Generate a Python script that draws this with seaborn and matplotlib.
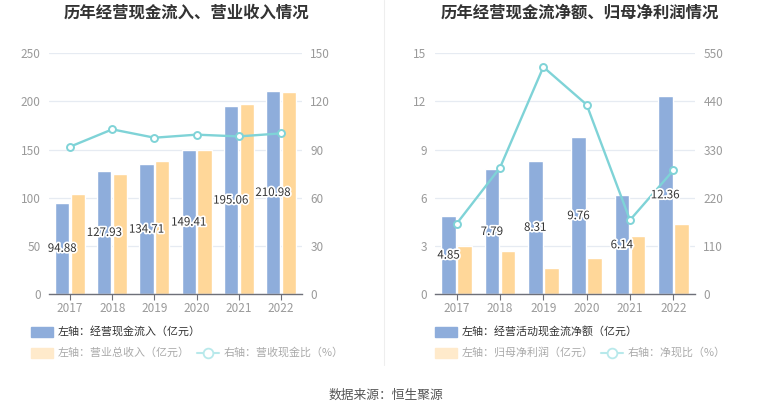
import pandas as pd
import seaborn as sns
import matplotlib.pyplot as plt
import matplotlib.patheffects as pe
from matplotlib.patches import Rectangle
from matplotlib.lines import Line2D

# 数据
years = ['2017', '2018', '2019', '2020', '2021', '2022']
cash_inflow = [94.88, 127.93, 134.71, 149.41, 195.06, 210.98]
revenue = [103.4, 124.8, 138.0, 149.7, 197.8, 209.9]
cash_rev_ratio = [91.8, 102.6, 97.4, 99.3, 98.2, 100.1]
net_cash = [4.85, 7.79, 8.31, 9.76, 6.14, 12.36]
net_profit = [3.01, 2.70, 1.62, 2.26, 3.63, 4.36]
net_cash_ratio = [160.7, 288.6, 518.7, 432.6, 169.0, 282.6]

left_ticks_1 = [0, 50, 100, 150, 200, 250]
right_ticks_1 = [0, 30, 60, 90, 120, 150]
left_ticks_2 = [0, 3, 6, 9, 12, 15]
right_ticks_2 = [0, 110, 220, 330, 440, 550]

BLUE = '#8EADDB'
ORANGE = '#FFD799'
TEAL = '#7FD3D7'
GRID = '#E6EBF2'
TICK = '#9A9A9A'

sns.set_style('white')
plt.rcParams['font.family'] = ['Noto Sans CJK SC', 'DejaVu Sans']

W, H = 765, 413
fig = plt.figure(figsize=(W / 100, H / 100), dpi=100)


def fx(px):
    return px / W


def fy(py):
    return 1 - py / H


def draw_panel(rect, bars1, bars2, line, lticks, rticks, names):
    ax = fig.add_axes(rect)
    df = pd.DataFrame({
        'year': years * 2,
        'value': bars1 + bars2,
        'series': [names[0]] * len(years) + [names[1]] * len(years),
    })
    sns.barplot(data=df, x='year', y='value', hue='series', ax=ax,
                palette=[BLUE, ORANGE], width=0.75, gap=0.1,
                saturation=1, legend=False, errorbar=None)
    ax.set_xlim(-0.5, len(years) - 0.5)
    ax.set_ylim(lticks[0], lticks[-1])
    ax.set_yticks(lticks)
    ax.grid(axis='y', color=GRID, lw=0.9)
    ax.grid(axis='x', visible=False)
    ax.set_axisbelow(True)
    ax.set_xlabel('')
    ax.set_ylabel('')
    for s in ['top', 'left', 'right']:
        ax.spines[s].set_visible(False)
    ax.spines['bottom'].set_color('#6E7079')
    ax.spines['bottom'].set_linewidth(1)
    ax.tick_params(axis='y', length=0, labelcolor=TICK, labelsize=8.5, pad=6)
    ax.tick_params(axis='x', length=4, color='#6E7079', labelcolor=TICK,
                   labelsize=8.5, pad=1.5, bottom=True)

    ax2 = ax.twinx()
    sns.lineplot(x=list(range(len(years))), y=line, ax=ax2, color=TEAL, lw=1.7,
                 marker='o', markersize=5, markerfacecolor='white',
                 markeredgecolor=TEAL, markeredgewidth=1.4)
    ax2.set_ylim(rticks[0], rticks[-1])
    ax2.set_yticks(rticks)
    ax2.grid(False)
    for s in ax2.spines.values():
        s.set_visible(False)
    ax2.tick_params(axis='y', length=0, labelcolor=TICK, labelsize=8.5, pad=6)
    ax2.set_ylabel('')

    # 数据标签（在柱子中间，白色描边）
    for patch, v in zip(ax.containers[0], bars1):
        x = patch.get_x() + patch.get_width() / 2
        y = patch.get_height() / 2
        ax2.text(x, y, f'{v:.2f}', transform=ax.transData, ha='center', va='center',
                 fontsize=8.3, color='#333333', zorder=10,
                 path_effects=[pe.withStroke(linewidth=2.5, foreground='white')])
    return ax, ax2


draw_panel([fx(49), fy(294), fx(253), (294 - 53.3) / H],
           cash_inflow, revenue, cash_rev_ratio,
           left_ticks_1, right_ticks_1, ['经营现金流入', '营业总收入'])
draw_panel([fx(435), fy(294), fx(260), (294 - 53.3) / H],
           net_cash, net_profit, net_cash_ratio,
           left_ticks_2, right_ticks_2, ['经营活动现金流净额', '归母净利润'])

# 标题
fig.text(fx(186), fy(13), '历年经营现金流入、营业收入情况', ha='center', va='center',
         fontsize=11.8, fontweight='bold', color='#333333')
fig.text(fx(580), fy(13), '历年经营现金流净额、归母净利润情况', ha='center', va='center',
         fontsize=11.8, fontweight='bold', color='#333333')

# 分隔线
fig.add_artist(Line2D([fx(384), fx(384)], [fy(0), fy(365)], color='#EEEEEE', lw=0.8))


# 图例
def swatch(x, y, color, label, tcolor):
    fig.add_artist(Rectangle((fx(x), fy(y + 5)), fx(22), 10 / H, color=color,
                             transform=fig.transFigure))
    fig.text(fx(x + 27), fy(y), label, ha='left', va='center', fontsize=7.9, color=tcolor)


def line_key(x, y, label):
    fig.add_artist(Line2D([fx(x), fx(x + 22)], [fy(y), fy(y)], color='#B8E9EB', lw=1.5,
                          transform=fig.transFigure))
    fig.add_artist(Line2D([fx(x + 11)], [fy(y)], color='#B8E9EB', marker='o', markersize=7,
                          markerfacecolor='white', markeredgewidth=1.3,
                          transform=fig.transFigure))
    fig.text(fx(x + 27), fy(y), label, ha='left', va='center', fontsize=7.9, color='#AAAAAA')


swatch(31, 331.5, BLUE, '左轴：经营现金流入（亿元）', '#333333')
swatch(31, 352.5, '#FFEACB', '左轴：营业总收入（亿元）', '#AAAAAA')
line_key(197, 352.5, '右轴：营收现金比（%）')

swatch(435, 331.5, BLUE, '左轴：经营活动现金流净额（亿元）', '#333333')
swatch(435, 352.5, '#FFEACB', '左轴：归母净利润（亿元）', '#AAAAAA')
line_key(601, 352.5, '右轴：净现比（%）')

fig.text(fx(386), fy(395), '数据来源：恒生聚源', ha='center', va='center',
         fontsize=9.2, color='#555555')

fig.savefig('out.png', dpi=100)
